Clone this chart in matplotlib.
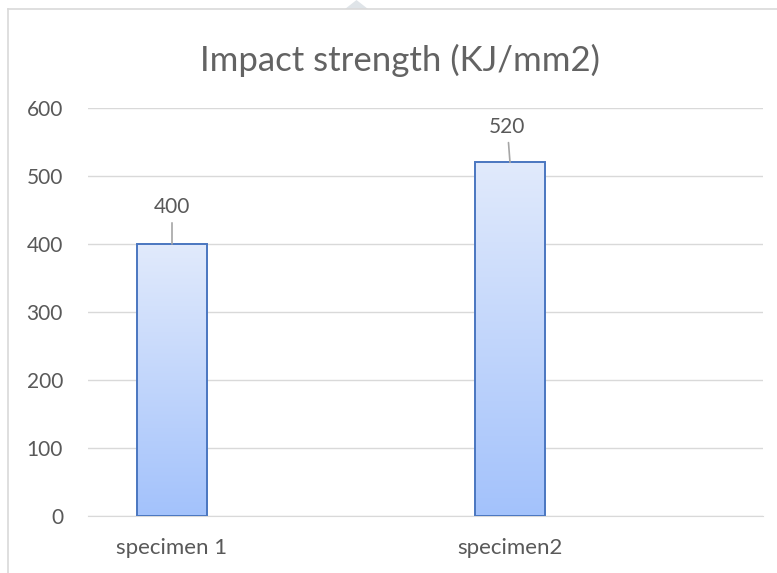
import numpy as np
import matplotlib
matplotlib.use("Agg")
import matplotlib.pyplot as plt
from matplotlib.patches import Polygon
from matplotlib.lines import Line2D

categories = ["specimen 1", "specimen2"]
values = [400, 520]
yticks = [0, 100, 200, 300, 400, 500, 600]

plt.rcParams['font.family'] = ['Lato', 'DejaVu Sans']
grey = '#595959'

W, H = 777, 573
fig = plt.figure(figsize=(W/100, H/100), dpi=100)
ax = fig.add_axes([88/W, 1 - 516/H, (763 - 88)/W, 408/H])

# frame of the chart box (left + top), and small marker at the top
fig.add_artist(Line2D([8/W, 8/W], [0, 1 - 9/H], color='#d9d9d9', lw=1.2))
fig.add_artist(Line2D([8/W, 1], [1 - 9/H, 1 - 9/H], color='#d9d9d9', lw=1.2))
fig.add_artist(Polygon([[345/W, 1 - 9/H], [368/W, 1 - 9/H], [356.5/W, 1]],
                       closed=True, color='#dfe4e8', lw=0))

x = np.arange(len(categories))
width = 0.205

# gradient inside each bar
grad = np.linspace(0, 1, 256).reshape(-1, 1)
cmap = matplotlib.colors.LinearSegmentedColormap.from_list('g', ['#a3c2fb', '#e1eafc'])
bars = ax.bar(x, values, width=width, facecolor='none', edgecolor='#4a76c0', lw=1.4, zorder=3)
for b in bars:
    im = ax.imshow(grad, cmap=cmap, aspect='auto', origin='lower',
                   extent=[b.get_x(), b.get_x() + b.get_width(), 0, b.get_height()], zorder=2)
    im.set_clip_path(b)

# data labels with leader lines
label_off = [(0, 54), (-0.008, 52)]
for xi, v, off in zip(x, values, label_off):
    ax.annotate(str(v), xy=(xi, v), xytext=(xi + off[0], v + off[1]),
                ha='center', va='center', fontsize=15, color=grey,
                arrowprops=dict(arrowstyle='-', color='#a6a6a6', lw=1.2,
                                shrinkA=2, shrinkB=0))

ax.set_xlim(-(172 - 88)/338, (763 - 172)/338)
ax.set_ylim(0, 600)
ax.set_yticks(yticks)
ax.set_xticks(x)
ax.set_xticklabels(categories)
ax.yaxis.grid(True, color='#d9d9d9', lw=1)
ax.set_axisbelow(True)
for s in ['top', 'right', 'left']:
    ax.spines[s].set_visible(False)
ax.spines['bottom'].set_color('#d9d9d9')
ax.tick_params(axis='both', length=0, colors=grey)
ax.tick_params(axis='x', pad=16, labelsize=16)
ax.tick_params(axis='y', pad=18, labelsize=15)
ax.patch.set_alpha(0)

fig.text(400/W, 1 - 60/H, "Impact strength (KJ/mm2)", ha='center', va='center',
         fontsize=25, color='#636363')

fig.savefig("out.png", dpi=100)
